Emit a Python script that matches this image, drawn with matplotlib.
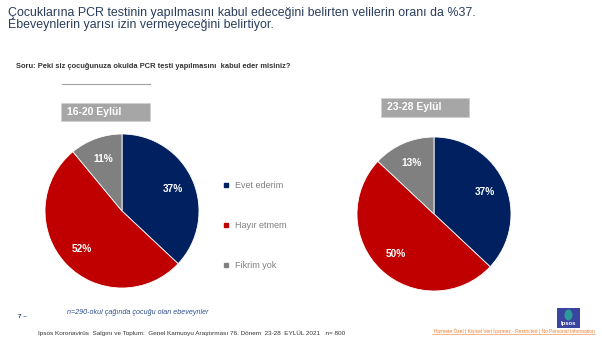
import matplotlib.pyplot as plt
from matplotlib.lines import Line2D
from matplotlib.patches import Rectangle, Ellipse

plt.rcParams['font.family'] = ['Liberation Sans', 'DejaVu Sans']

# data
labels = ['Evet ederim', 'Hayır etmem', 'Fikrim yok']
wave1 = [37, 52, 11]
wave2 = [37, 50, 13]
periods = ['16-20 Eylül', '23-28 Eylül']
colors = ['#002060', '#C00000', '#808080']

W, H = 602, 351
fig = plt.figure(figsize=(W / 100, H / 100), dpi=100)


def px_axes(x0, y0, w, h):
    # pixel box (top-left origin) -> figure axes
    return fig.add_axes([x0 / W, 1 - (y0 + h) / H, w / W, h / H])


def fx(x):
    return x / W


def fy(y):
    return 1 - y / H


# title
fig.text(fx(8), fy(7), 'Çocuklarına PCR testinin yapılmasını kabul edeceğini belirten velilerin oranı da %37.\n'
         'Ebeveynlerin yarısı izin vermeyeceğini belirtiyor.',
         ha='left', va='top', fontsize=8.9, color='#2a3d5c', linespacing=1.0)

fig.text(fx(16), fy(67), 'Soru: Peki siz çocuğunuza okulda PCR testi yapılmasını  kabul eder misiniz?',
         ha='left', va='center', fontsize=5.4, fontweight='bold', color='#333333')

# thin line above left box
fig.add_artist(Line2D([fx(62), fx(150)], [fy(84), fy(84)], color='#a0a0a0', lw=0.8))


def draw_pie(cx, cy, r, values, period, box):
    ax = px_axes(cx - r, cy - r, 2 * r, 2 * r)
    ax.pie(values, colors=colors, startangle=90, counterclock=False,
           autopct='%d%%', pctdistance=0.72,
           wedgeprops=dict(edgecolor='white', linewidth=0.6),
           textprops=dict(color='white', fontsize=7.3, fontweight='bold'))
    ax.set_xlim(-1, 1)
    ax.set_ylim(-1, 1)
    ax.set_aspect('equal')
    ax.axis('off')
    bx, by, bw, bh = box
    fig.add_artist(Rectangle((fx(bx), fy(by + bh)), bw / W, bh / H,
                             transform=fig.transFigure, facecolor='#a6a6a6',
                             edgecolor='#d0d0d0', lw=0.6))
    fig.text(fx(bx + 6), fy(by + bh / 2), period, ha='left', va='center',
             fontsize=7.5, fontweight='bold', color='white')


draw_pie(122, 211, 77, wave1, periods[0], (61, 103, 89, 18))
draw_pie(434, 214, 77, wave2, periods[1], (381, 98, 88, 19))

# legend
handles = [Line2D([], [], marker='s', ls='none', color=c, markersize=3) for c in colors]
fig.legend(handles, labels, loc='upper left', bbox_to_anchor=(fx(214), fy(173)),
           frameon=False, fontsize=6.5, labelcolor='#7f7f7f', labelspacing=3.45,
           handlelength=0.8, handletextpad=0.6)

# footer
fig.text(fx(18), fy(317), '7 –', fontsize=4.5, color='#1f3864', va='center', fontweight='bold')
fig.text(fx(67), fy(313), 'n=290-okul çağında çocuğu olan ebeveynler', fontsize=5.1,
         style='italic', color='#2f4f8f', va='center')
fig.text(fx(38), fy(333), 'Ipsos Koronavirüs  Salgını ve Toplum:  Genel Kamuoyu Araştırması 76. Dönem  23-28  EYLÜL 2021   n= 800',
         fontsize=4.6, color='#333333', va='center')

# logo
fig.add_artist(Rectangle((fx(557), fy(328)), 23 / W, 20 / H, transform=fig.transFigure,
                         facecolor='#3a45a0', edgecolor='none'))
fig.add_artist(Ellipse((fx(568.5), fy(315)), 8 / W, 11 / H, transform=fig.transFigure,
                       facecolor='#2a9a9a', edgecolor='none'))
fig.text(fx(568.5), fy(323.5), 'Ipsos', fontsize=4.2, color='white', ha='center', va='center',
         fontweight='bold')

fig.text(fx(595), fy(331), 'Hizmete Özel | Kişisel Veri İçermez - Restricted | No Personal Information',
         fontsize=3.5, color='#f07c30', va='center', ha='right')
fig.add_artist(Line2D([fx(432), fx(595)], [fy(333.5), fy(333.5)], color='#f07c30', lw=0.4))

fig.savefig('out.png', dpi=100)
